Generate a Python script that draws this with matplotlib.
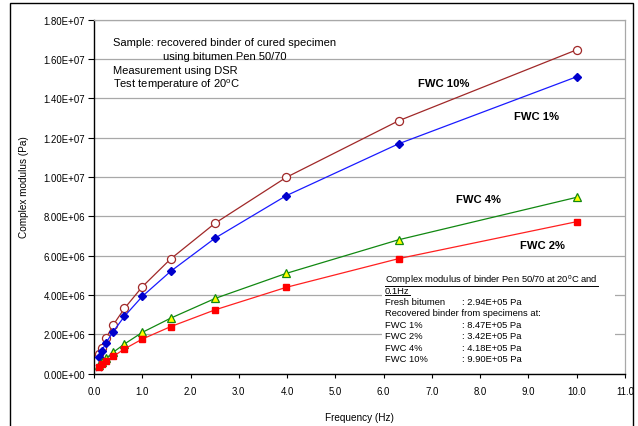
import matplotlib
matplotlib.use("Agg")
import matplotlib.pyplot as plt
from matplotlib.patches import Rectangle
from matplotlib.lines import Line2D

plt.rcParams['font.family'] = ['Liberation Sans', 'DejaVu Sans']
plt.rcParams['mathtext.fontset'] = 'custom'
plt.rcParams['mathtext.rm'] = 'Liberation Sans'

# ---- data ----
freq = [0.1, 0.158, 0.251, 0.398, 0.631, 1.0, 1.585, 2.512, 3.981, 6.31, 10.0]
fwc10 = [0.990e6, 1.32e6, 1.81e6, 2.48e6, 3.32e6, 4.42e6, 5.83e6, 7.66e6, 9.98e6, 12.86e6, 16.47e6]
fwc1 = [0.847e6, 1.14e6, 1.58e6, 2.14e6, 2.92e6, 3.93e6, 5.20e6, 6.90e6, 9.05e6, 11.69e6, 15.10e6]
fwc4 = [0.418e6, 0.58e6, 0.78e6, 1.09e6, 1.51e6, 2.10e6, 2.82e6, 3.83e6, 5.10e6, 6.81e6, 8.97e6]
fwc2 = [0.342e6, 0.50e6, 0.65e6, 0.88e6, 1.26e6, 1.76e6, 2.39e6, 3.25e6, 4.39e6, 5.85e6, 7.73e6]
fresh_freq = [0.1]
fresh = [0.294e6]

xticks = [0, 1, 2, 3, 4, 5, 6, 7, 8, 9, 10, 11]
yticks = [0, 2e6, 4e6, 6e6, 8e6, 10e6, 12e6, 14e6, 16e6, 18e6]

header_lines = ["Complex modulus of binder Pen 50/70 at 20$^{\\rm o}$C and ", "0.1Hz"]
box_rows = [("Fresh bitumen", ": 2.94E+05 Pa"),
            ("Recovered binder from specimens at:", None),
            ("FWC 1%", ": 8.47E+05 Pa"),
            ("FWC 2%", ": 3.42E+05 Pa"),
            ("FWC 4%", ": 4.18E+05 Pa"),
            ("FWC 10%", ": 9.90E+05 Pa")]

W, H = 638, 427
fig = plt.figure(figsize=(W / 100, H / 100), dpi=100)
L, R, T, B = 94, 625, 20.7, 374.7
ax = fig.add_axes([L / W, 1 - B / H, (R - L) / W, (B - T) / H])

# outer frame (bottom edge lies outside the picture)
fig.patches.append(Rectangle((10 / W, -6 / H), (633 - 10) / W, (423 + 6 - 0) / H,
                             transform=fig.transFigure, fill=False,
                             edgecolor='black', linewidth=1.0))

ax.plot(freq, fwc10, color='#a02828', lw=0.9, marker='o', ms=5.8,
        mfc='white', mec='#a02828', mew=0.9, zorder=3)
ax.plot(freq, fwc1, color='#1a1aff', lw=0.9, marker='D', ms=4.3,
        mfc='#0000cc', mec='#0000cc', zorder=3)
ax.plot(freq, fwc4, color='#118811', lw=0.9, marker='^', ms=5.4,
        mfc='#ffff00', mec='#118811', mew=0.9, zorder=3)
ax.plot(freq, fwc2, color='#ff2020', lw=0.9, marker='s', ms=4.8,
        mfc='#ff0000', mec='#ff0000', zorder=3)
ax.plot(fresh_freq, fresh, ls='none', marker='x', ms=4, mew=1.2,
        color='#8a2a8a', zorder=2.5)

ax.set_xlim(0, 11)
ax.set_ylim(0, 1.8e7)
ax.set_xticks(xticks)
ax.set_xticklabels([f"{v:.1f}" for v in xticks], fontsize=6.9)
ax.set_yticks(yticks)
ax.set_yticklabels([f"{v:.2E}" for v in yticks], fontsize=6.9)
ax.tick_params(axis='y', direction='out', length=4, width=0.8, pad=2.5)
ax.tick_params(axis='x', direction='out', length=3, width=0.8, pad=5.5)

ax.set_axisbelow(True)
ax.yaxis.grid(True, color='#a8a8a8', lw=0.9)
ax.xaxis.grid(False)
for s in ['top', 'right']:
    ax.spines[s].set_color('#a8a8a8')
    ax.spines[s].set_linewidth(0.9)
for s in ['left', 'bottom']:
    ax.spines[s].set_color('black')
    ax.spines[s].set_linewidth(1.0)

ax.set_xlabel("Frequency (Hz)", fontsize=7.2)
ax.set_ylabel("Complex modulus (Pa)", fontsize=7.2)
ax.xaxis.set_label_coords(0.5, (B - 413) / (B - T))
ax.yaxis.set_label_coords((29 - L) / (R - L), (B - 187) / (B - T))

def fx(px):
    return (px - L) / (R - L)

def fy(py):
    return (B - py) / (B - T)

# upper-left text
ul = 8.0
ax.text(fx(113), fy(42.7), "Sample: recovered binder of cured specimen",
        transform=ax.transAxes, fontsize=ul, va='center', ha='left')
ax.text(fx(163), fy(56.5), "using bitumen Pen 50/70",
        transform=ax.transAxes, fontsize=ul, va='center', ha='left')
ax.text(fx(113), fy(71), "Measurement using DSR",
        transform=ax.transAxes, fontsize=ul, va='center', ha='left')
ax.text(fx(113), fy(85), "Test temperature of 20$^{\\rm o}$C",
        transform=ax.transAxes, fontsize=ul, va='center', ha='left')

# series labels
for lbl, px, py in [("FWC 10%", 444, 84), ("FWC 1%", 536.7, 117.3),
                    ("FWC 4%", 478.3, 200), ("FWC 2%", 542.7, 246)]:
    ax.text(fx(px), fy(py), lbl, transform=ax.transAxes, fontsize=8.1,
            fontweight='bold', ha='center', va='center')

# annotation box
bs = 6.75
ax.add_patch(Rectangle((fx(382), fy(370)), fx(615) - fx(382), fy(268) - fy(370),
                       transform=ax.transAxes, facecolor='white',
                       edgecolor='none', zorder=1))
row_y = [280, 291.7, 302.7, 314, 325.3, 336.7, 348.7, 360]
hdr_texts = []
for i, line in enumerate(header_lines):
    t = ax.text(fx(385), fy(row_y[i]), line, transform=ax.transAxes,
                fontsize=bs, va='center', ha='left', zorder=4)
    hdr_texts.append(t)
for j, (a, b) in enumerate(box_rows):
    y = fy(row_y[j + 2])
    ax.text(fx(385), y, a, transform=ax.transAxes, fontsize=bs,
            va='center', ha='left', zorder=4)
    if b:
        ax.text(fx(461.7), y, b, transform=ax.transAxes, fontsize=bs,
                va='center', ha='left', zorder=4)

# underline header lines
fig.canvas.draw()
for t in hdr_texts:
    bb = t.get_window_extent()
    x0, x1 = bb.x0, bb.x1
    yb = bb.y0 + 0.5
    fig.add_artist(Line2D([x0 / W, x1 / W], [yb / H, yb / H],
                          transform=fig.transFigure, color='black', lw=0.7))

fig.savefig("out.png", dpi=100)
